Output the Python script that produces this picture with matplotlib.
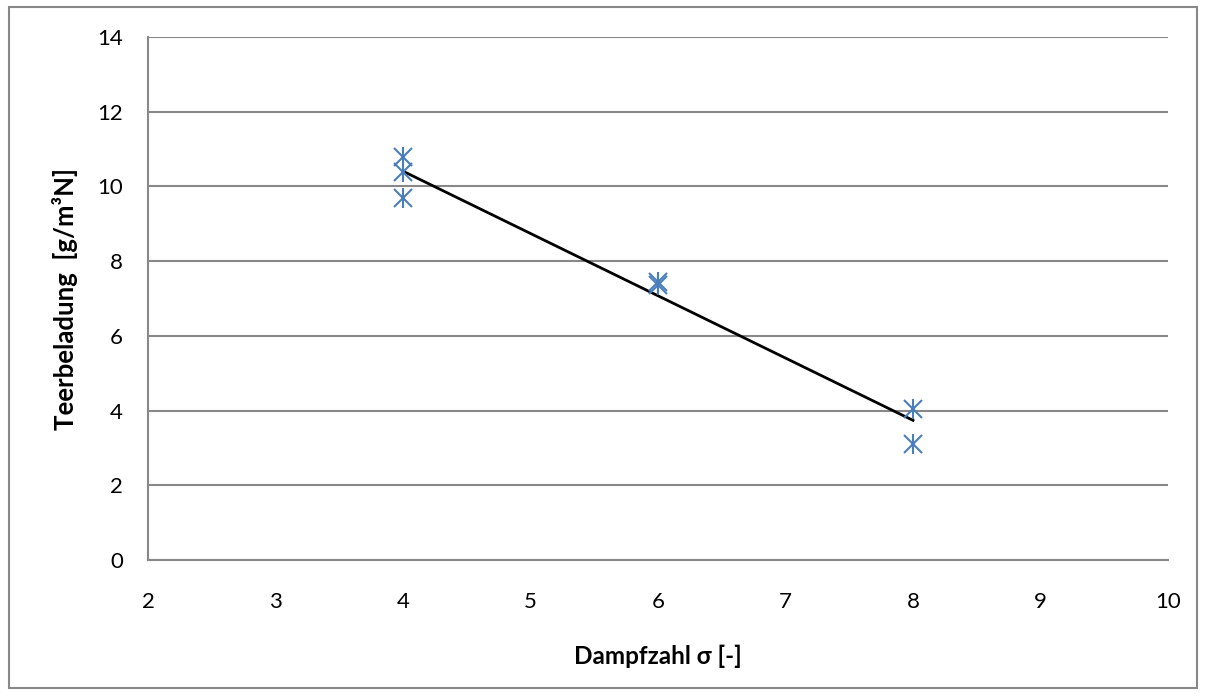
import numpy as np
import matplotlib
matplotlib.use("Agg")
import matplotlib.pyplot as plt
from matplotlib.patches import Rectangle

plt.rcParams['font.family'] = ['Lato', 'DejaVu Sans']

# data
dampfzahl = [4, 4, 4, 6, 6, 8, 8]
teerbeladung = [10.8, 10.4, 9.7, 7.45, 7.35, 4.05, 3.1]
x_ticks = [2, 3, 4, 5, 6, 7, 8, 9, 10]
y_ticks = [0, 2, 4, 6, 8, 10, 12, 14]

fig = plt.figure(figsize=(12.07, 6.96), dpi=100)
ax = fig.add_axes([0.1226, 0.1954, 0.9677 - 0.1226, 0.9468 - 0.1954])

grid_c = '#888888'
ax.set_xlim(2, 10)
ax.set_ylim(0, 14)
ax.set_xticks(x_ticks)
ax.set_yticks(y_ticks)
ax.tick_params(length=0, labelsize=16)
ax.tick_params(axis='y', pad=18)
ax.tick_params(axis='x', pad=23)
ax.yaxis.grid(True, color=grid_c, linewidth=1.5)
ax.set_axisbelow(True)
for s in ['top', 'right']:
    ax.spines[s].set_visible(False)
for s in ['left', 'bottom']:
    ax.spines[s].set_color(grid_c)
    ax.spines[s].set_linewidth(1.5)

# trendline (linear fit)
slope, intercept = np.polyfit(dampfzahl, teerbeladung, 1)
xs = np.array([min(dampfzahl), max(dampfzahl)])
ax.plot(xs, slope * xs + intercept, color='black', linewidth=2, zorder=3)

mc = '#4a7ebb'
ax.plot(dampfzahl, teerbeladung, linestyle='none', marker='x', markersize=13.5,
        markeredgewidth=1.5, color=mc, zorder=4)
ax.plot(dampfzahl, teerbeladung, linestyle='none', marker='|', markersize=14.5,
        markeredgewidth=1.5, color=mc, zorder=4)

fig.text(658 / 1207, 1 - 656 / 696, 'Dampfzahl σ [-]', ha='center', va='center',
         fontsize=17.5, fontweight='bold')
fig.text(65 / 1207, 1 - 299 / 696, 'Teerbeladung  [g/m³N]', ha='center', va='center',
         rotation=90, fontsize=18.5, fontweight='bold')

fig.patches.append(Rectangle((9 / 1207, 1 - 688 / 696), (1197 - 9) / 1207, (688 - 7) / 696,
                             transform=fig.transFigure, fill=False, edgecolor=grid_c,
                             linewidth=1.5))

fig.savefig('out.png', dpi=100)
